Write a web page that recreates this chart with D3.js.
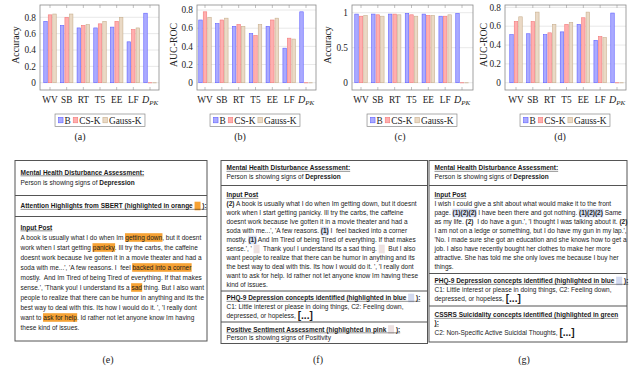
<!DOCTYPE html>
<html><head><meta charset="utf-8">
<script src="https://cdn.jsdelivr.net/npm/d3@7"></script>
<style>body{margin:0;background:#fff} svg{display:block}</style>
</head><body><svg id="c" width="640" height="374"></svg>
<script>
// ---------- DATA ----------
const categories = ["WV","SB","RT","T5","EE","LF","D_PK"];
const seriesNames = ["B","CS-K","Gauss-K"];
const accA_B      = [0.75,0.70,0.67,0.67,0.68,0.50,0.85];
const accA_CSK    = [0.83,0.80,0.70,0.72,0.75,0.65,0];
const accA_GaussK = [0.84,0.84,0.71,0.75,0.80,0.67,0];
const aucB_B      = [0.69,0.65,0.62,0.54,0.62,0.38,0.78];
const aucB_CSK    = [0.78,0.69,0.64,0.52,0.69,0.49,0];
const aucB_GaussK = [0.72,0.71,0.62,0.64,0.71,0.48,0];
const accC_B      = [0.98,0.98,0.98,0.99,0.98,0.95,0.99];
const accC_CSK    = [0.95,0.97,0.98,0.97,0.96,0.95,0];
const accC_GaussK = [0.96,0.95,0.97,0.95,0.96,0.97,0];
const aucD_B      = [0.51,0.52,0.51,0.54,0.62,0.45,0.74];
const aucD_CSK    = [0.65,0.65,0.53,0.62,0.69,0.49,0];
const aucD_GaussK = [0.70,0.75,0.62,0.64,0.75,0.48,0];
const ticks02 = [0,0.2,0.4,0.6,0.8];
const ticks05 = [0,0.5,1];
const tickFmt = d => d === 0 ? "0" : (d === 1 ? "1" : String(d));

// ---------- STYLE ----------
const fills   = ["#aaaaff","#ffaeae","#ead9c5"];
const strokes = ["#6262ff","#f27a7a","#c9b08f"];
const serif = "'Liberation Serif','Times New Roman',serif";
const sans = "'Liberation Sans',Arial,sans-serif";
const svg = d3.select("#c");

const charts = [
  {series:[accA_B,accA_CSK,accA_GaussK], ticks:ticks02, top:0.8, yTop:17.3, frame:[40,159], cat:[50,150], title:"Accuracy", tx:15, lx:100, cap:"(a)", cx:80},
  {series:[aucB_B,aucB_CSK,aucB_GaussK], ticks:ticks02, top:0.8, yTop:10, frame:[197,316], cat:[205,306], title:"AUC-ROC", tx:173, lx:255, cap:"(b)", cx:240},
  {series:[accC_B,accC_CSK,accC_GaussK], ticks:ticks05, top:1, yTop:12.7, frame:[352,473], cat:[361,462], title:"Accuracy", tx:327, lx:412, cap:"(c)", cx:400},
  {series:[aucD_B,aucD_CSK,aucD_GaussK], ticks:ticks02, top:0.8, yTop:7.4, frame:[505,626], cat:[516,617], title:"AUC-ROC", tx:483, lx:565, cap:"(d)", cx:560}
];
const fy0 = 5, fy1 = 90, yZero = 82.7;

charts.forEach(c => {
  const g = svg.append("g");
  const x = d3.scalePoint().domain(categories).range(c.cat);
  const y = d3.scaleLinear().domain([0, c.top]).range([yZero, c.yTop]);
  g.selectAll("line.grid").data(c.ticks).join("line").attr("class","grid")
    .attr("x1", c.frame[0]).attr("x2", c.frame[1])
    .attr("y1", d => y(d)).attr("y2", d => y(d))
    .attr("stroke", "#e2e2e2").attr("stroke-width", 0.8);
  categories.forEach(cat => {
    g.append("line").attr("x1", x(cat)).attr("x2", x(cat)).attr("y1", fy0).attr("y2", fy0+3).attr("stroke","#999").attr("stroke-width",0.6);
    g.append("line").attr("x1", x(cat)).attr("x2", x(cat)).attr("y1", fy1-3).attr("y2", fy1).attr("stroke","#999").attr("stroke-width",0.6);
  });
  const bw = 3.5, off = 4.5;
  c.series.forEach((vals, j) => {
    g.selectAll("rect.b"+j).data(vals).join("rect").attr("class","b"+j)
      .attr("x", (d,i) => x(categories[i]) + (j-1)*off - bw/2)
      .attr("y", d => y(d))
      .attr("width", bw)
      .attr("height", d => Math.max(0.2, yZero - y(d)))
      .attr("fill", fills[j]).attr("stroke", strokes[j]).attr("stroke-width", 0.6);
  });
  g.append("rect").attr("x", c.frame[0]).attr("y", fy0).attr("width", c.frame[1]-c.frame[0]).attr("height", fy1-fy0)
    .attr("fill","none").attr("stroke","#8a8a8a").attr("stroke-width",0.8);
  g.selectAll("text.yt").data(c.ticks).join("text").attr("class","yt")
    .attr("x", c.frame[0]-4).attr("y", d => y(d)+3.2)
    .attr("text-anchor","end").attr("font-family",serif).attr("font-size",9.3).attr("fill","#222")
    .text(tickFmt);
  categories.forEach(cat => {
    const t = g.append("text").attr("x", x(cat)).attr("y", 102.5).attr("text-anchor","middle")
      .attr("font-family",serif).attr("font-size",9.3).attr("fill","#222");
    const parts = cat.split("_");
    if (parts.length > 1) {
      t.append("tspan").attr("font-style","italic").attr("font-size",10).text(parts[0]);
      t.append("tspan").attr("font-style","italic").attr("font-size",7).attr("dy",2).text(parts[1]);
    } else t.text(cat);
  });
  g.append("text").attr("transform", `translate(${c.tx+3.5},45) rotate(-90)`).attr("text-anchor","middle")
    .attr("font-family",serif).attr("font-size",9.8).attr("fill","#222").text(c.title);
  const lg = g.append("g");
  let cx = 0;
  seriesNames.forEach((n, j) => {
    lg.append("rect").attr("x", cx).attr("y", 117.3).attr("width", 4.5).attr("height", 5.5)
      .attr("fill", fills[j]).attr("stroke", strokes[j]).attr("stroke-width", 0.6);
    cx += 6;
    const t = lg.append("text").attr("x", cx).attr("y", 123.5).attr("font-family",serif).attr("font-size",9.3).attr("fill","#222").text(n);
    cx += t.node().getComputedTextLength() + 2.5;
  });
  const lw = cx - 2.5;
  lg.attr("transform", `translate(${c.lx - lw/2},0)`);
  lg.insert("rect", ":first-child").attr("x", -3.5).attr("y", 114).attr("width", lw+7).attr("height", 12.5)
    .attr("fill","#fff").attr("stroke","#888").attr("stroke-width",0.7);
  g.append("text").attr("x", c.cx).attr("y", 139.5).attr("text-anchor","middle")
    .attr("font-family",serif).attr("font-size",10).attr("fill","#222").text(c.cap);
});

// ---------- TEXT PANELS ----------
const FS = 6.5;
const ORANGE = "#f6a235", BLUE = "#d3daf0", PINK = "#ece0e0";
function parse(str) {
  const out = [];
  str.split(/(\{[a-z]+(?::[^}]*)?\})/).forEach(p => {
    if (!p) return;
    const m = p.match(/^\{([a-z]+)(?::([^}]*))?\}$/);
    if (!m) { out.push({t:p}); return; }
    const k = m[1], v = m[2];
    if (k === "b") out.push({t:v, b:true});
    else if (k === "o") out.push({t:v, hl:ORANGE});
    else if (k === "q") out.push({t:v, b:true, hl:BLUE});
    else if (k === "big") out.push({t:v, b:true, big:true});
    else if (k === "os") out.push({sw:6, hl:ORANGE});
    else if (k === "bs") out.push({sw:6, hl:BLUE});
    else if (k === "ps") out.push({sw:6, hl:PINK});
  });
  return out;
}
function richLine(g, x, yc, str, head) {
  const segs = parse(str);
  const bg = g.append("g"), fg = g.append("g");
  let cx = x;
  const base = yc + FS*0.36;
  segs.forEach(s => {
    if (s.sw) {
      bg.append("rect").attr("x", cx).attr("y", yc-4.3).attr("width", s.sw).attr("height", 8.6).attr("fill", s.hl);
      if (head) fg.append("line").attr("x1",cx).attr("x2",cx+s.sw).attr("y1",base+1).attr("y2",base+1).attr("stroke","#222").attr("stroke-width",0.5);
      cx += s.sw; return;
    }
    const size = s.big ? FS*1.55 : FS;
    const t = fg.append("text").attr("x", cx).attr("y", s.big ? base+1 : base)
      .attr("font-family", sans).attr("font-size", size).attr("fill", "#1a1a1a")
      .attr("font-weight", (s.b || head) ? "bold" : "normal")
      .style("white-space","pre").text(s.t);
    const w = t.node().getComputedTextLength();
    if (s.hl) bg.append("rect").attr("x", cx-0.3).attr("y", yc-4.3).attr("width", w+0.6).attr("height", 8.6).attr("fill", s.hl);
    if (head) fg.append("line").attr("x1",cx).attr("x2",cx+w).attr("y1",base+1).attr("y2",base+1).attr("stroke","#222").attr("stroke-width",0.5);
    cx += w;
  });
}
function panel(p) {
  const g = svg.append("g");
  g.append("rect").attr("x",p.box[0]).attr("y",p.box[1]).attr("width",p.box[2]-p.box[0]).attr("height",p.box[3]-p.box[1])
    .attr("fill","#fff").attr("stroke","#555").attr("stroke-width",1);
  p.seps.forEach(s => g.append("line").attr("x1",p.box[0]).attr("x2",p.box[2]).attr("y1",s).attr("y2",s).attr("stroke","#555").attr("stroke-width",1.2));
  p.lines.forEach(l => richLine(g, p.box[0]+5.5, l[0], l[1], l[2]));
  g.append("text").attr("x",p.cap[0]).attr("y",p.cap[1]).attr("text-anchor","middle")
    .attr("font-family",serif).attr("font-size",10).attr("fill","#222").text(p.cap[2]);
}
function body(y0, step, arr) { return arr.map((s,i) => [y0 + step*i, s, false]); }

panel({box:[15,160.5,207,341], seps:[195.5,216.5], cap:[108,363,"(e)"], lines:[
  [172.5,"Mental Health Disturbance Assessment:",true],
  [182.5,"Person is showing signs of {b:Depression}",false],
  [206,"Attention Highlights from SBERT (highlighted in orange {os} ):",true],
  [227.5,"Input Post",true],
  ...body(237.5,10,[
    "A book is usually what I do when Im {o:getting down}, but it doesnt",
    "work when I start getting {o:panicky}. Ill try the carbs, the caffeine",
    "doesnt work because Ive gotten it in a movie theater and had a",
    "soda with me...', 'A few reasons. I  feel {o:backed into a corner}",
    "mostly.  And Im Tired of being Tired of everything. If that makes",
    "sense.', 'Thank you! I understand its a {o:sad} thing. But I also want",
    "people to realize that there can be humor in anything and its the",
    "best way to deal with this. Its how I would do it. ', 'I really dont",
    "want to {o:ask for help}. Id rather not let anyone know Im having",
    "these kind of issues."])
]});

panel({box:[221,160.5,427.5,343.5], seps:[185.5,291,322], cap:[318,363,"(f)"], lines:[
  [168,"Mental Health Disturbance Assessment:",true],
  [177,"Person is showing signs of {b:Depression}",false],
  [195,"Input Post",true],
  ...body(204,9,[
    "{b:(2)} A book is usually what I do when Im getting down, but it doesnt",
    "work when I start getting panicky. Ill try the carbs, the caffeine",
    "doesnt work because Ive gotten it in a movie theater and had a",
    "soda with me...', 'A few reasons. {q:(1)} I  feel backed into a corner",
    "mostly. {q:(1)} And Im Tired of being Tired of everything. If that makes",
    "sense.', ' {ps}  Thank you! I understand its a sad thing. {ps}  But I also",
    "want people to realize that there can be humor in anything and its",
    "the best way to deal with this. Its how I would do it. ', 'I really dont",
    "want to ask for help. Id rather not let anyone know Im having these",
    "kind of issues."]),
  [298,"PHQ-9 Depression concepts identified (highlighted in blue {bs} ):",true],
  [306.5,"C1: Little interest or please in doing things, C2: Feeling down,",false],
  [315.5,"depressed, or hopeless, {big:[...]}",false],
  [329.5,"Positive Sentiment Assessment (highlighted in pink {ps} ):",true],
  [338,"Person is showing signs of Positivity",false]
]});

panel({box:[429,160.5,627,342], seps:[185.5,273.5,306], cap:[524,363,"(g)"], lines:[
  [168,"Mental Health Disturbance Assessment:",true],
  [177,"Person is showing signs of {b:Depression}",false],
  [195,"Input Post",true],
  ...body(204,9,[
    "I wish I could give a shit about what would make it to the front",
    "page. {q:(1)(2)(2)} I have been there and got nothing. {q:(1)(2)(2)} Same",
    "as my life. {b:(2)}  I do have a gun.', 'I thought I was talking about it. {b:(2)}",
    "I am not on a ledge or something, but I do have my gun in my lap.',",
    "'No. I made sure she got an education and she knows how to get a",
    "job. I also have recently bought her clothes to make her more",
    "attractive. She has told me she only loves me because I buy her",
    "things."]),
  [281,"PHQ-9 Depression concepts identified (highlighted in blue {bs} ):",true],
  [289.5,"C1: Little interest or please in doing things, C2: Feeling down,",false],
  [298.5,"depressed, or hopeless, {big:[...]}",false],
  [315,"CSSRS Suicidality concepts identified (highlighted in green",true],
  [323,"):",true],
  [333,"C2: Non-Specific Active Suicidal Thoughts, {big:[...]}",false]
]});
</script></body></html>
